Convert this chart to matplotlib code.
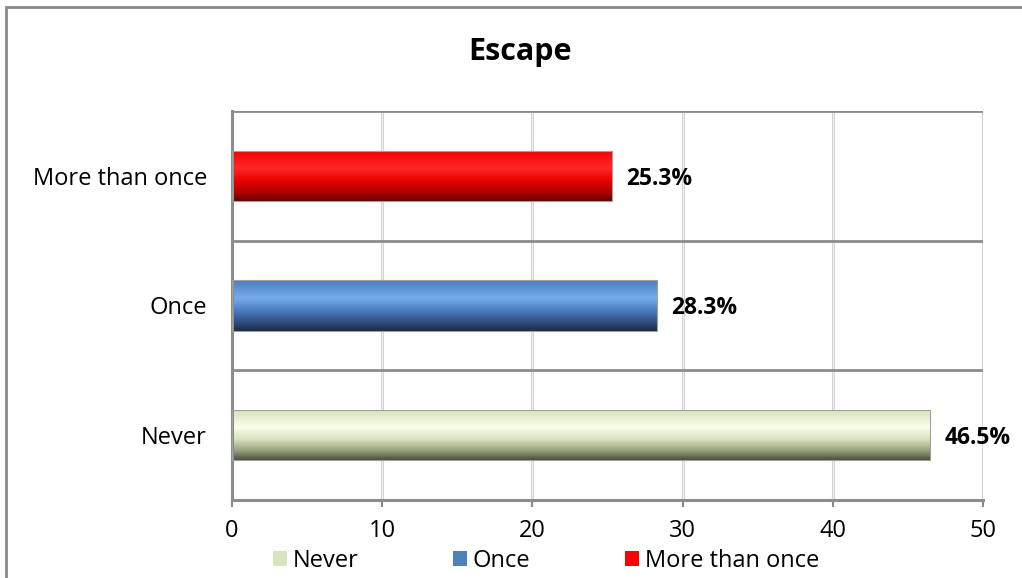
import numpy as np
import matplotlib
matplotlib.use("Agg")
import matplotlib.pyplot as plt
from matplotlib.patches import Rectangle, Patch

plt.rcParams['font.family'] = ['Open Sans', 'DejaVu Sans']

# data
categories = ["Never", "Once", "More than once"]
values = [46.5, 28.3, 25.3]
x_ticks = [0, 10, 20, 30, 40, 50]
title = "Escape"

# flat colours for legend, gradient stops (fraction from top, rgb) for bars
legend_colors = ["#d7e4bd", "#4f81bd", "#ff0000"]
gradients = [
    [(0.0, (212, 225, 185)), (0.35, (250, 255, 235)), (0.6, (215, 225, 190)),
     (0.82, (150, 160, 125)), (1.0, (75, 80, 60))],
    [(0.0, (75, 125, 190)), (0.35, (118, 172, 236)), (0.6, (75, 125, 190)),
     (0.85, (45, 75, 120)), (1.0, (28, 42, 70))],
    [(0.0, (245, 0, 0)), (0.35, (255, 40, 40)), (0.6, (235, 0, 0)),
     (0.85, (170, 0, 0)), (1.0, (100, 0, 0))],
]


def grad_image(stops, n=100):
    t = np.linspace(0, 1, n)
    pos = [s[0] for s in stops]
    img = np.zeros((n, 1, 3))
    for c in range(3):
        img[:, 0, c] = np.interp(t, pos, [s[1][c] / 255 for s in stops])
    return img


fig = plt.figure(figsize=(10.22, 5.78), dpi=100)
ax = fig.add_axes([232 / 1022, 1 - 500 / 578, (983 - 232) / 1022, (500 - 111) / 578])

y = np.arange(len(categories))
bar_h = 0.39
bars = ax.barh(y, values, height=bar_h, color="none", edgecolor="#a0a0a0",
               linewidth=0.8, zorder=3)
for b, stops in zip(bars, gradients):
    x0, y0 = b.get_x(), b.get_y()
    w, h = b.get_width(), b.get_height()
    im = ax.imshow(grad_image(stops), extent=(x0, x0 + w, y0, y0 + h),
                   origin="upper", aspect="auto", zorder=2,
                   interpolation="bilinear")
    im.set_clip_path(b)

for yi, v in zip(y, values):
    ax.annotate(f"{v}%", (v, yi), xytext=(10, -2), textcoords="offset points",
                ha="left", va="center", fontsize=16.5, fontweight="bold")

ax.set_xlim(0, 50)
ax.set_ylim(-0.5, 2.5)
ax.set_xticks(x_ticks)
ax.set_xticklabels([str(t) for t in x_ticks], fontsize=17)
ax.set_yticks(y)
ax.set_yticklabels(categories, fontsize=17)
ax.tick_params(axis="y", length=0, pad=18)
ax.tick_params(axis="x", length=5, width=1.5, color="#888888", pad=9,
               direction="out")

# gridlines
for xv in x_ticks[1:]:
    ax.axvline(xv, color="#d4d4d4", linewidth=2.2, zorder=1)
    ax.axvline(xv, color="#f4f4f4", linewidth=0.6, zorder=1)
for yv in [0.5, 1.5, 2.5]:
    ax.axhline(yv, color="#8c8c8c", linewidth=2.0, zorder=1)

for s in ["top", "right"]:
    ax.spines[s].set_visible(False)
ax.spines["left"].set_color("#8c8c8c")
ax.spines["left"].set_linewidth(2.2)
ax.spines["bottom"].set_color("#8c8c8c")
ax.spines["bottom"].set_linewidth(2.2)

fig.text(520 / 1022, 1 - 52 / 578, title, ha="center", va="center",
         fontsize=22, fontweight="bold")

handles = [Patch(facecolor=c, edgecolor="none") for c in legend_colors]
fig.legend(handles, categories, loc="center", ncol=3,
           bbox_to_anchor=(546 / 1022, 1 - 561 / 578), frameon=False,
           fontsize=17, handlelength=0.6, handleheight=0.6, handletextpad=0.25,
           columnspacing=4.0, borderaxespad=0, borderpad=0)

# outer chart border
fig.patches.append(Rectangle((6 / 1022, -0.05), 1.1, 1 - 7 / 578 + 0.05,
                             transform=fig.transFigure, fill=False,
                             edgecolor="#888888", linewidth=2, zorder=0))

fig.savefig("out.png", dpi=100)
